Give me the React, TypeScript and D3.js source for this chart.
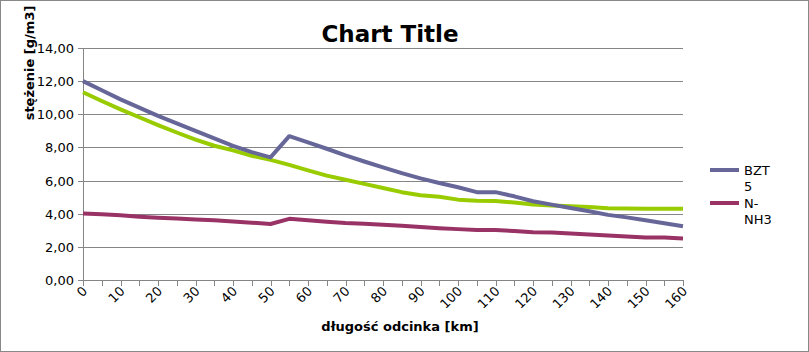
import React from "react";
import * as d3 from "d3";

const distances = [0,5,10,15,20,25,30,35,40,45,50,55,60,65,70,75,80,85,90,95,100,105,110,115,120,125,130,135,140,145,150,155,160];
const bzt5 = [12.0,11.45,10.9,10.4,9.9,9.45,9.0,8.55,8.1,7.72,7.4,8.68,8.3,7.92,7.52,7.15,6.8,6.45,6.13,5.85,5.6,5.3,5.3,5.05,4.75,4.55,4.35,4.15,3.93,3.78,3.6,3.43,3.24];
const nnh3 = [4.02,3.97,3.9,3.82,3.76,3.71,3.65,3.6,3.53,3.46,3.38,3.69,3.6,3.52,3.44,3.4,3.34,3.28,3.2,3.13,3.07,3.02,3.02,2.95,2.88,2.86,2.81,2.75,2.68,2.62,2.56,2.56,2.5];
const thirdSeries = [11.33,10.8,10.3,9.82,9.35,8.9,8.47,8.1,7.82,7.5,7.25,6.95,6.62,6.3,6.05,5.8,5.55,5.3,5.12,5.02,4.85,4.78,4.77,4.67,4.56,4.5,4.45,4.4,4.33,4.31,4.3,4.3,4.3];
const yTicks = [0,2,4,6,8,10,12,14];
const xLabels = [0,10,20,30,40,50,60,70,80,90,100,110,120,130,140,150,160];
const legendNames = [["BZT", "5"], ["N-", "NH3"]];

const W = 809, H = 352;
const FONT = "'DejaVu Sans', Verdana, sans-serif";

export default function App() {
  const x = d3.scaleLinear().domain([0, 160]).range([83, 683]);
  const y = d3.scaleLinear().domain([0, 14]).range([280, 48]);
  const line = (vals: number[]) =>
    d3.line<number>().x((_, i) => x(distances[i])).y((v) => y(v))(vals) || "";
  const colors = ["#666699", "#993366", "#99cc00"];
  return (
    <svg width={W} height={H} style={{ position: "absolute", left: 0, top: 0, display: "block", background: "#fff" }} fontFamily={FONT}>
      <rect x={0.5} y={0.5} width={W - 1} height={H - 1} fill="#fff" stroke="#888" />
      <text x={390} y={42} textAnchor="middle" fontSize={23} fontWeight="bold">Chart Title</text>
      {yTicks.map((t) => (
        <g key={t}>
          <line x1={83} x2={683} y1={Math.round(y(t)) + 0.5} y2={Math.round(y(t)) + 0.5} stroke="#868686" />
          <line x1={78} x2={83} y1={Math.round(y(t)) + 0.5} y2={Math.round(y(t)) + 0.5} stroke="#868686" />
          <text x={74} y={y(t) + 5} textAnchor="end" fontSize={13} fill="#000">{t.toFixed(2).replace(".", ",")}</text>
        </g>
      ))}
      <line x1={83.5} x2={83.5} y1={48} y2={280} stroke="#868686" />
      {distances.map((d) => (
        <line key={d} x1={Math.round(x(d)) + 0.5} x2={Math.round(x(d)) + 0.5} y1={280} y2={286} stroke="#868686" />
      ))}
      {xLabels.map((d) => (
        <text key={d} transform={`translate(${x(d) + 5},${292}) rotate(-45)`} textAnchor="end" fontSize={13} fill="#000">{d}</text>
      ))}
      <text x={400} y={331} textAnchor="middle" fontSize={13} fontWeight="bold">długość odcinka [km]</text>
      <text transform={`translate(34,63) rotate(-90)`} textAnchor="middle" fontSize={13} fontWeight="bold">stężenie [g/m3]</text>
      <path d={line(thirdSeries)} fill="none" stroke={colors[2]} strokeWidth={4} strokeLinejoin="round" />
      <path d={line(bzt5)} fill="none" stroke={colors[0]} strokeWidth={4} strokeLinejoin="round" />
      <path d={line(nnh3)} fill="none" stroke={colors[1]} strokeWidth={4} strokeLinejoin="round" />
      {legendNames.map((n, i) => (
        <g key={i}>
          <line x1={710} x2={739} y1={170 + i * 33} y2={170 + i * 33} stroke={colors[i]} strokeWidth={4} />
          <text x={744} y={175 + i * 33} fontSize={13}>{n[0]}</text>
          <text x={744} y={191 + i * 33} fontSize={13}>{n[1]}</text>
        </g>
      ))}
    </svg>
  );
}
